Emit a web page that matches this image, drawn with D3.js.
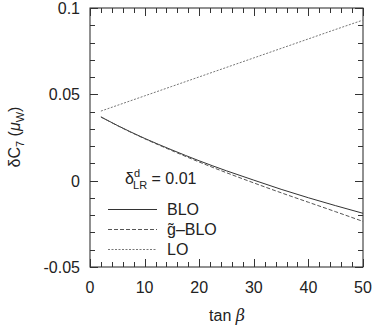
<!DOCTYPE html>
<html><head><meta charset="utf-8">
<script src="https://cdn.jsdelivr.net/npm/d3@7"></script>
<style>body{margin:0;background:#fff}svg{display:block}text{font-family:"Liberation Sans",Arial,sans-serif;fill:#222}</style>
</head><body><svg id="c" width="374" height="326"></svg>
<script>
const tanBeta = [2, 5, 10, 15, 20, 25, 30, 35, 40, 45, 50];
const BLO   = [0.0369, 0.0320, 0.0245, 0.0178, 0.0115, 0.0057, 0.0003, -0.0050, -0.0099, -0.0145, -0.0189];
const gBLO  = [0.0369, 0.0319, 0.0243, 0.0174, 0.0108, 0.0046, -0.0013, -0.0070, -0.0125, -0.0180, -0.0236];
const LO    = [0.0403, 0.0436, 0.0491, 0.0546, 0.0601, 0.0656, 0.0711, 0.0766, 0.0821, 0.0876, 0.0930];
const xTicks = [0, 10, 20, 30, 40, 50];
const yTicks = [-0.05, 0, 0.05, 0.1];
const yTickLabels = ["-0.05", "0", "0.05", "0.1"];

const svg = d3.select("#c");
const L = 90, R = 363, T = 8, B = 267;
const x = d3.scaleLinear().domain([0, 50]).range([L, R]);
const y = d3.scaleLinear().domain([-0.05, 0.1]).range([B, T]);

const g = svg.append("g");
// frame
g.append("rect").attr("x", L).attr("y", T).attr("width", R - L).attr("height", B - T)
  .attr("fill", "none").attr("stroke", "#222").attr("stroke-width", 1);

// ticks
const xMinor = d3.range(0, 51, 2);
const yMinor = d3.range(-0.05, 0.1001, 0.01);
const tk = g.append("g").attr("stroke", "#333").attr("stroke-width", 1);
xMinor.forEach(v => {
  const len = xTicks.includes(v) ? 8 : 5;
  const px = Math.round(x(v)) + 0.5;
  tk.append("line").attr("x1", px).attr("x2", px).attr("y1", B).attr("y2", B - len);
  tk.append("line").attr("x1", px).attr("x2", px).attr("y1", T).attr("y2", T + len);
});
yMinor.forEach(v => {
  const major = yTicks.some(t => Math.abs(t - v) < 1e-6);
  const len = major ? 8 : 5;
  const py = Math.round(y(v)) + 0.5;
  tk.append("line").attr("x1", L).attr("x2", L + len).attr("y1", py).attr("y2", py);
  tk.append("line").attr("x1", R).attr("x2", R - len).attr("y1", py).attr("y2", py);
});

// tick labels
xTicks.forEach(v => {
  g.append("text").attr("x", x(v)).attr("y", 293).attr("text-anchor", "middle")
    .attr("font-size", 16).text(v);
});
yTicks.forEach((v, i) => {
  g.append("text").attr("x", 80).attr("y", y(v) + 6).attr("text-anchor", "end")
    .attr("font-size", 16).text(yTickLabels[i]);
});

// axis titles
const xt = g.append("text").attr("x", 227).attr("y", 321).attr("text-anchor", "middle").attr("font-size", 16);
xt.append("tspan").text("tan ");
xt.append("tspan").attr("font-style", "italic").attr("font-family", "DejaVu Serif").text("β");

const yt = g.append("text").attr("transform", "translate(20,137) rotate(-90)")
  .attr("text-anchor", "middle").attr("font-size", 16);
yt.append("tspan").text("δC");
yt.append("tspan").attr("font-size", 11).attr("dy", 4).text("7");
yt.append("tspan").attr("dy", -4).text(" (");
yt.append("tspan").attr("font-style", "italic").text("μ");
yt.append("tspan").attr("font-size", 11).attr("dy", 4).text("W");
yt.append("tspan").attr("dy", -4).text(")");

// lines
const line = d3.line().x((d, i) => x(tanBeta[i])).y(d => y(d)).curve(d3.curveMonotoneX);
const series = [
  {name: "BLO", data: BLO, color: "#333", dash: null},
  {name: "g̃–BLO", data: gBLO, color: "#555", dash: "4,2"},
  {name: "LO", data: LO, color: "#777", dash: "2,1.5"}
];
series.forEach(s => {
  g.append("path").attr("d", line(s.data)).attr("fill", "none")
    .attr("stroke", s.color).attr("stroke-width", 1)
    .attr("stroke-dasharray", s.dash);
});

// legend
const lt = g.append("text").attr("x", 125).attr("y", 184).attr("font-size", 16);
lt.append("tspan").text("δ");
lt.append("tspan").attr("font-size", 11).attr("dy", -7).text("d");
lt.append("tspan").attr("font-size", 11).attr("dx", -7).attr("dy", 12).text("LR");
lt.append("tspan").attr("dy", -5).text(" = 0.01");

const legY = [209, 229, 249];
series.forEach((s, i) => {
  g.append("line").attr("x1", 108).attr("x2", 157).attr("y1", legY[i] + 0.5).attr("y2", legY[i] + 0.5)
    .attr("stroke", s.color).attr("stroke-width", 1).attr("stroke-dasharray", s.dash);
  g.append("text").attr("x", 167).attr("y", legY[i] + 6).attr("font-size", 16).text(s.name);
});
</script></body></html>
